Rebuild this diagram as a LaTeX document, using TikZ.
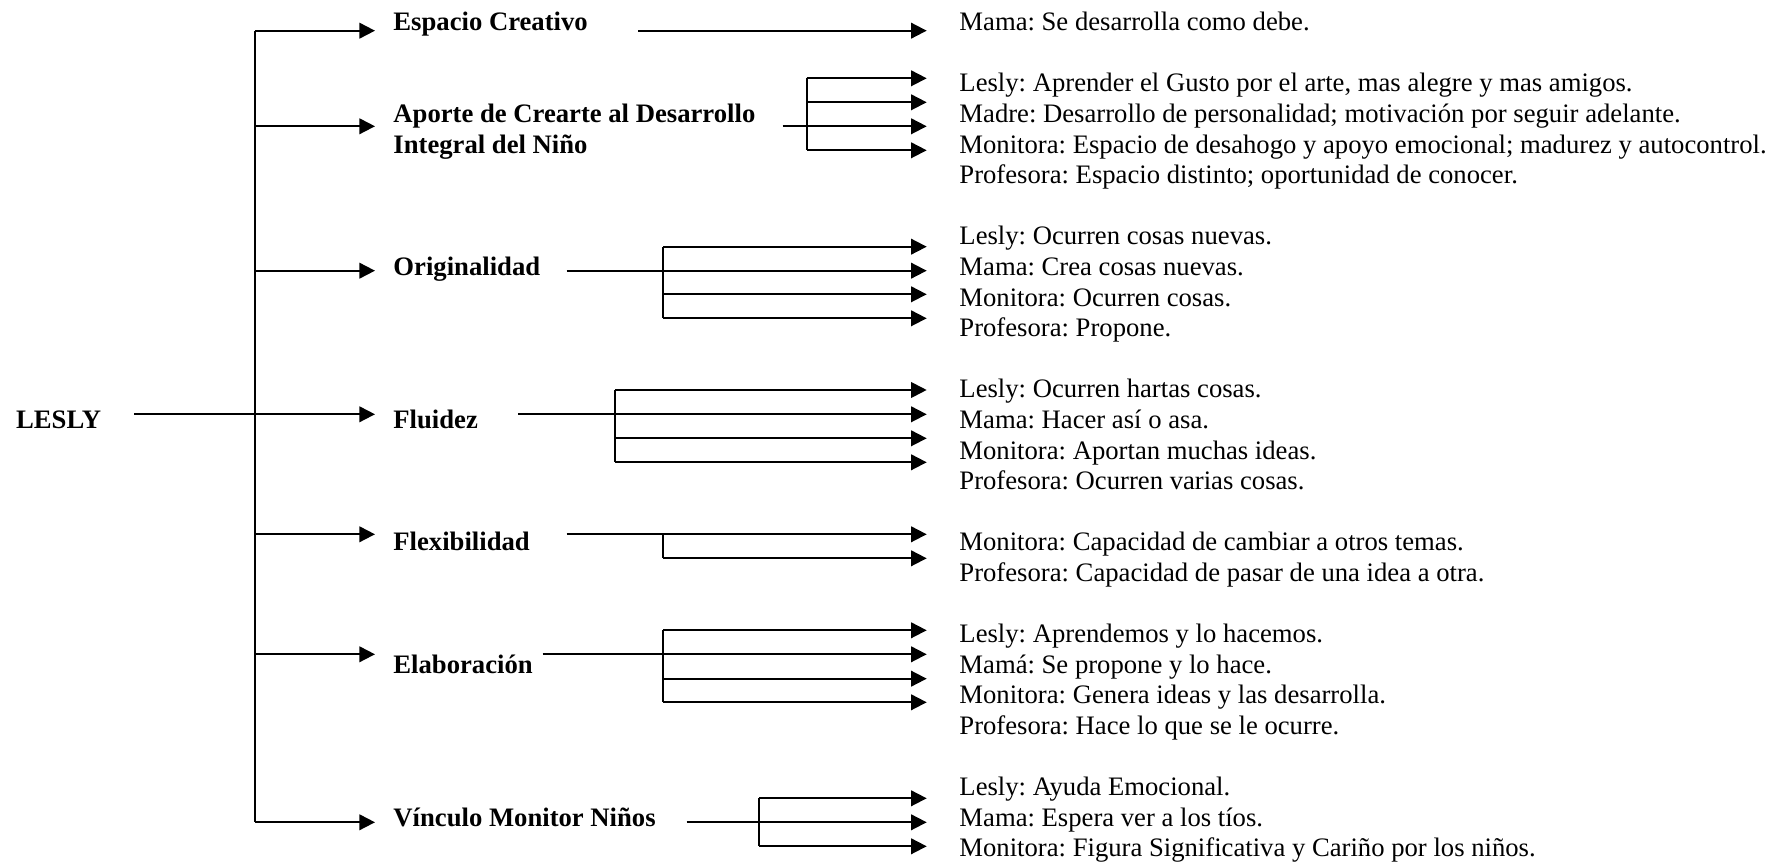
\documentclass[tikz,border=0pt]{standalone}
\usepackage{fontspec}
\setmainfont{Liberation Serif}
\usetikzlibrary{arrows.meta}
\frenchspacing

\begin{document}
\begin{tikzpicture}[
    x=0.45pt, y=-0.45pt,
    font=\fontsize{12}{13.77}\selectfont,
    title/.style={font=\fontsize{12}{13.77}\selectfont\bfseries, inner sep=0pt, anchor=base west},
    answer/.style={inner sep=0pt, anchor=base west},
    edge/.style={-{Triangle[length=7pt, width=7pt]}, line width=0.85pt},
    link/.style={line width=0.85pt},
]
\useasboundingbox (0,0) rectangle (1781,864);

% Root
\node[title] (lesly) at (15.7,428.5) {LESLY};

% Topics (one text line = 30.6 units)
\node[title] (espacio) at (393,30.7) {Espacio Creativo};
\node[title] (aporte) at (393,30.7+30.6*3) {Aporte de Crearte al Desarrollo};
\node[title] (aporte-b) at (393,30.7+30.6*4) {Integral del Niño};
\node[title] (orig) at (393,30.7+30.6*8) {Originalidad};
\node[title] (fluidez) at (393,30.7+30.6*13) {Fluidez};
\node[title] (flex) at (393,30.7+30.6*17) {Flexibilidad};
\node[title] (elab) at (393,30.7+30.6*21) {Elaboración};
\node[title] (vinculo) at (393,30.7+30.6*26) {Vínculo Monitor Niños};

% Trunk
\coordinate (trunk-top) at (255.3,30.7);
\coordinate (trunk-bot) at (255.3,822.3);
\coordinate (lesly-out) at (134.3,414.3);
\draw[link] (trunk-top) -- (trunk-bot);
\draw[link] (lesly-out) -- (trunk-top |- lesly-out);

\foreach \n/\y in {esp/30.7, apo/126.3, ori/270.7, flu/414.3, fle/534.3, ela/654.3, vin/822.3} {
  \coordinate (\n-in) at (375,\y);
  \draw[edge] (trunk-top |- \n-in) -- (\n-in);
}

% Espacio Creativo
\coordinate (esp-out) at (638.3,30.7);
\coordinate (esp-tip) at (926.7,30.7);
\draw[edge] (esp-out) -- (esp-tip);

% Forks towards the answers
\foreach \n/\sx/\fx/\my/\first/\last/\ys in {
    apo/782.7/806.7/126.3/78.3/150.3/{78.3,102.3,126.3,150.3},
    ori/566.7/663.3/270.7/246.7/318.3/{246.7,270.7,294.3,318.3},
    flu/518.4/615/414.3/390/462.3/{390,414.3,438.3,462.3},
    fle/566.7/663.3/534.3/534.3/558.3/{534.3,558.3},
    ela/542.7/663.3/654.3/630.3/702.3/{630.3,654.3,678.7,702.3},
    vin/686.7/759/822.3/798.3/846.3/{798.3,822.3,846.3}} {
  \coordinate (\n-out) at (\sx,\my);
  \coordinate (\n-fork) at (\fx,\my);
  \draw[link] (\n-out) -- (\n-fork);
  \draw[link] (\fx,\first) -- (\fx,\last);
  \foreach \y [count=\i] in \ys {
    \coordinate (\n-tip\i) at (926.7,\y);
    \draw[edge] (\n-fork |- \n-tip\i) -- (\n-tip\i);
  }
}

% Answers
\foreach \k/\t in {
    0/{Mama: Se desarrolla como debe.},
    2/{Lesly: Aprender el Gusto por el arte, mas alegre y mas amigos.},
    3/{Madre: Desarrollo de personalidad; motivación por seguir adelante.},
    4/{Monitora: Espacio de desahogo y apoyo emocional; madurez y autocontrol.},
    5/{Profesora: Espacio distinto; oportunidad de conocer.},
    7/{Lesly: Ocurren cosas nuevas.},
    8/{Mama: Crea cosas nuevas.},
    9/{Monitora: Ocurren cosas.},
    10/{Profesora: Propone.},
    12/{Lesly: Ocurren hartas cosas.},
    13/{Mama: Hacer así o asa.},
    14/{Monitora: Aportan muchas ideas.},
    15/{Profesora: Ocurren varias cosas.},
    17/{Monitora: Capacidad de cambiar a otros temas.},
    18/{Profesora: Capacidad de pasar de una idea a otra.},
    20/{Lesly: Aprendemos y lo hacemos.},
    21/{Mamá: Se propone y lo hace.},
    22/{Monitora: Genera ideas y las desarrolla.},
    23/{Profesora: Hace lo que se le ocurre.},
    25/{Lesly: Ayuda Emocional.},
    26/{Mama: Espera ver a los tíos.},
    27/{Monitora: Figura Significativa y Cariño por los niños.}}
  \node[answer] (ans-\k) at (959,30.7+30.6*\k) {\t};

\end{tikzpicture}
\end{document}
